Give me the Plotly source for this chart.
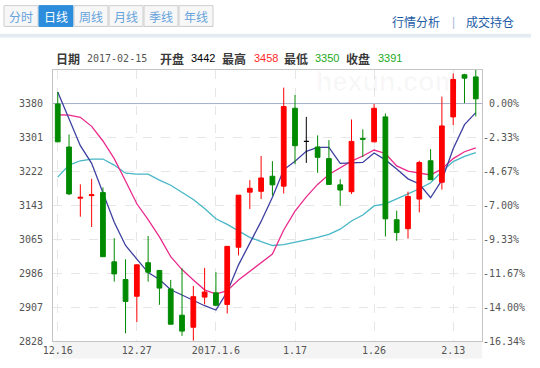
import plotly.graph_objects as go

# ---------------- data ----------------
dates = ["2016-12-16", "2016-12-19", "2016-12-20", "2016-12-21", "2016-12-22", "2016-12-23",
         "2016-12-26", "2016-12-27", "2016-12-28", "2016-12-29", "2016-12-30",
         "2017-01-03", "2017-01-04", "2017-01-05", "2017-01-06", "2017-01-09", "2017-01-10",
         "2017-01-11", "2017-01-12", "2017-01-13", "2017-01-16", "2017-01-17", "2017-01-18",
         "2017-01-19", "2017-01-20", "2017-01-23", "2017-01-24", "2017-01-25", "2017-01-26",
         "2017-02-03", "2017-02-06", "2017-02-07", "2017-02-08", "2017-02-09", "2017-02-10",
         "2017-02-13", "2017-02-14", "2017-02-15"]

opens = [3379, 3279, 3160, 3166, 3173, 3012, 2971, 2932, 3010, 2992,
         2949, 2888, 2860, 2930, 2940, 2913, 3046, 3174, 3176, 3211,
         3188, 3369, 3292, 3279, 3252, 3191, 3175, 3299, 3291, 3349,
         3110, 3089, 3158, 3247, 3197, 3349, 3447, 3442]
highs = [3407, 3308, 3192, 3205, 3185, 3067, 3018, 3007, 3072, 2993,
         2970, 2997, 2956, 2998, 2988, 3048, 3167, 3202, 3258, 3246,
         3417, 3400, 3349, 3306, 3295, 3204, 3343, 3320, 3379, 3357,
         3131, 3175, 3247, 3274, 3396, 3450, 3449, 3458]
lows = [3291, 3167, 3117, 3093, 3024, 2966, 2846, 2872, 2966, 2912,
        2867, 2840, 2829, 2913, 2911, 2892, 3027, 3135, 3158, 3166,
        3171, 3239, 3242, 3219, 3192, 3142, 3170, 3256, 3290, 3071,
        3061, 3066, 3127, 3203, 3180, 3330, 3381, 3350]
closes = [3291, 3170, 3162, 3168, 3024, 2984, 2920, 3005, 2988, 2951,
          2867, 2851, 2931, 2942, 2911, 3048, 3167, 3183, 3207, 3191,
          3373, 3282, 3292, 3255, 3192, 3179, 3292, 3297, 3369, 3112,
          3080, 3164, 3243, 3203, 3328, 3436, 3439, 3391]

ma5 = [3407, 3346, 3282, 3241, 3170, 3104, 3050, 3018, 2987, 2971,
       2947, 2935, 2922, 2910, 2900, 2942, 3005, 3055, 3106, 3162,
       3226, 3246, 3269, 3278, 3278, 3241, 3242, 3243, 3265, 3249,
       3228, 3205, 3193, 3161, 3202, 3275, 3331, 3359]
ma10 = [3354, 3353, 3348, 3327, 3293, 3252, 3200, 3147, 3110, 3070,
        3024, 2994, 2970, 2947, 2937, 2945, 2970, 2990, 3008, 3030,
        3086, 3130, 3163, 3192, 3215, 3231, 3246, 3258, 3272, 3264,
        3235, 3223, 3218, 3214, 3228, 3252, 3268, 3277]
ma20 = [3209, 3237, 3247, 3251, 3251, 3237, 3218, 3216, 3216, 3202,
        3190, 3174, 3157, 3136, 3112, 3099, 3084, 3069, 3059, 3050,
        3052, 3057, 3063, 3069, 3076, 3088, 3107, 3121, 3142, 3147,
        3158, 3170, 3182, 3196, 3222, 3245, 3257, 3266]

prev_close = 3380
y_ticks = [2828, 2906.86, 2985.71, 3064.57, 3143.43, 3222.29, 3301.14, 3380]
y_tick_labels = ["2828", "2907", "2986", "3065", "3143", "3222", "3301", "3380"]
pct_labels = ["-16.34%", "-14.00%", "-11.67%", "-9.33%", "-7.00%", "-4.67%", "-2.33%", "\u00a00.00%"]
x_tick_idx = [0, 7, 14, 21, 28, 35]
x_tick_labels = ["12.16", "12.27", "2017.1.6", "1.17", "1.26", "2.13"]

tabs = ["分时", "日线", "周线", "月线", "季线", "年线"]
active_tab = "日线"
links = ["行情分析", "成交持仓"]
header = [("日期", "2017-02-15", "#555555"), ("开盘", "3442", "#000000"),
          ("最高", "3458", "#ff2a2a"), ("最低", "3350", "#22aa22"), ("收盘", "3391", "#22aa22")]

# ---------------- layout helpers ----------------
W, H = 540, 368
L, R, T, B = 53, 482, 70, 350
def px(x):
    return (x - L) / (R - L)
def py(y):
    return (B - y) / (B - T)

CJK = "Noto Sans CJK SC"
MONO = "DejaVu Sans Mono"
SANS = "Liberation Sans"

xs = list(range(len(dates)))
x_range = [-0.42, 37.55]
y_range = [2828, 3458]

fig = go.Figure()

# previous-close reference line (under candles)
fig.add_trace(go.Scatter(x=x_range, y=[prev_close, prev_close], mode="lines",
                         line=dict(color="#a3b0cc", width=1), hoverinfo="skip", showlegend=False))

# moving averages (main axis, below candles)
for vals, col in [(ma20, "#45b7c6"), (ma10, "#ea2a8c"), (ma5, "#3d40a0")]:
    fig.add_trace(go.Scatter(x=xs, y=vals, mode="lines", line=dict(color=col, width=1.3),
                             hoverinfo="skip", showlegend=False))

# candles on overlaying axis so they sit above the lines
def sub(cond):
    idx = [i for i in xs if cond(opens[i], closes[i])]
    return (idx, [opens[i] for i in idx], [highs[i] for i in idx],
            [lows[i] for i in idx], [closes[i] for i in idx])

for cond, col in [(lambda o, c: c > o, "#ff0000"), (lambda o, c: c < o, "#008a00"),
                  (lambda o, c: c == o, "#000000")]:
    i, o, h, l, c = sub(cond)
    fig.add_trace(go.Candlestick(
        x=i, open=o, high=h, low=l, close=c, yaxis="y2",
        increasing=dict(line=dict(color=col, width=1), fillcolor=col),
        decreasing=dict(line=dict(color=col, width=1), fillcolor=col),
        whiskerwidth=0, hoverinfo="skip", showlegend=False))

fig.update_layout(
    width=W, height=H,
    margin=dict(l=L, r=W - R, t=T, b=H - B),
    paper_bgcolor="white", plot_bgcolor="white",
    boxgap=0.4,
    showlegend=False,
    xaxis=dict(range=x_range, tickvals=x_tick_idx, ticktext=x_tick_labels,
               showgrid=True, gridcolor="#e6e6e6", griddash="dash", gridwidth=1,
               showline=True, linecolor="#c4c4c4", linewidth=1, mirror=True,
               zeroline=False, ticks="", rangeslider=dict(visible=False),
               tickfont=dict(family=MONO, size=10, color="#555555")),
    yaxis=dict(range=y_range, tickvals=y_ticks, ticktext=y_tick_labels,
               showgrid=True, gridcolor="#e6e6e6", griddash="dash", gridwidth=1,
               showline=True, linecolor="#c4c4c4", linewidth=1, mirror=True,
               zeroline=False, ticks="", ticklabelstandoff=7,
               tickfont=dict(family=MONO, size=10, color="#555555")),
    yaxis2=dict(range=y_range, overlaying="y", side="right", tickvals=y_ticks, ticktext=pct_labels,
                showgrid=False, showline=False, zeroline=False, ticks="",
                ticklabelstandoff=0,
                tickfont=dict(family=MONO, size=10, color="#555555")),
)

shapes = []
# x label band
shapes.append(dict(type="rect", xref="paper", yref="paper", x0=0, x1=1, y0=py(368), y1=py(350.5),
                   fillcolor="#f4f4f4", line=dict(width=0), layer="below"))
# header separator band
shapes.append(dict(type="rect", xref="paper", yref="paper", x0=px(0), x1=px(531), y0=py(36.5), y1=py(32.5),
                   fillcolor="#e4ebf3", line=dict(width=0), layer="below"))

annotations = []
# tabs
tab_x0 = 4
tab_w = 35
for k, name in enumerate(tabs):
    x0 = tab_x0 + k * tab_w
    x1 = x0 + tab_w - 1
    active = name == active_tab
    shapes.append(dict(type="rect", xref="paper", yref="paper", x0=px(x0), x1=px(x1),
                       y0=py(25), y1=py(3.5),
                       fillcolor="#2b8ddb" if active else "#f7f7f7",
                       line=dict(color="#2b8ddb" if active else "#cdcdcd", width=1), layer="below"))
    annotations.append(dict(text=name, x=px((x0 + x1) / 2), y=py(15), xref="paper", yref="paper",
                            xanchor="center", yanchor="middle", showarrow=False,
                            font=dict(family=CJK, size=12, color="#ffffff" if active else "#66a3dc")))

# right links
annotations.append(dict(text=links[0], x=px(415.5), y=py(20), xref="paper", yref="paper",
                        xanchor="center", yanchor="middle", showarrow=False,
                        font=dict(family=CJK, size=12, color="#1d5ca6")))
annotations.append(dict(text="|", x=px(453), y=py(20), xref="paper", yref="paper",
                        xanchor="center", yanchor="middle", showarrow=False,
                        font=dict(family=SANS, size=12, color="#a9bbd6")))
annotations.append(dict(text=links[1], x=px(490), y=py(20), xref="paper", yref="paper",
                        xanchor="center", yanchor="middle", showarrow=False,
                        font=dict(family=CJK, size=12, color="#1d5ca6")))

# header row
label_x = [54, 158, 220, 282, 344]
value_x = [85, 189, 252, 313, 376]
for (lab, val, col), lx, vx in zip(header, label_x, value_x):
    annotations.append(dict(text="<b>" + lab + "</b>", x=px(lx), y=py(58), xref="paper", yref="paper",
                            xanchor="left", yanchor="middle", showarrow=False,
                            font=dict(family=CJK, size=12, color="#3a3a3a")))
    annotations.append(dict(text=val, x=px(vx), y=py(58), xref="paper", yref="paper",
                            xanchor="left", yanchor="middle", showarrow=False,
                            font=dict(family=MONO if lab == "日期" else SANS,
                                      size=10 if lab == "日期" else 11, color=col)))

# watermark
annotations.append(dict(text="<b>hexun.com</b>", x=px(387), y=py(82), xref="paper", yref="paper",
                        xanchor="center", yanchor="middle", showarrow=False,
                        font=dict(family=SANS, size=27, color="rgba(0,0,0,0.03)")))

fig.update_layout(shapes=shapes, annotations=annotations)
fig.write_html("out.html")
